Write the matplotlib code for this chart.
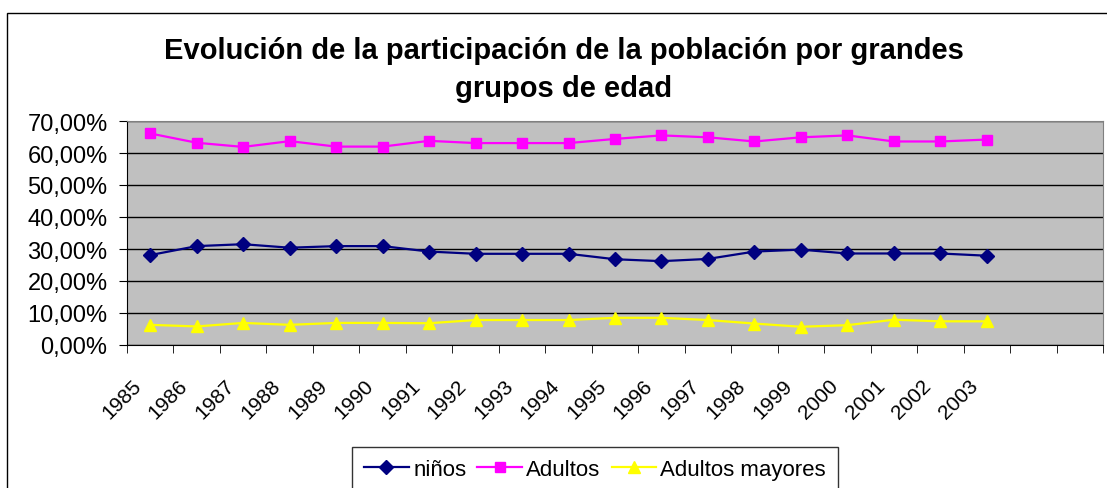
import matplotlib
matplotlib.use("Agg")
import matplotlib.pyplot as plt
import matplotlib.transforms as mtransforms
from matplotlib.patches import Rectangle
from matplotlib.ticker import FuncFormatter

plt.rcParams['font.family'] = ['Liberation Sans', 'DejaVu Sans']

# Data (percent)
years = ['1985', '1986', '1987', '1988', '1989', '1990', '1991', '1992', '1993', '1994',
         '1995', '1996', '1997', '1998', '1999', '2000', '2001', '2002', '2003']
ninos = [28.1, 30.9, 31.5, 30.4, 30.9, 30.9, 29.2, 28.5, 28.5, 28.5,
         26.8, 26.2, 26.9, 29.2, 29.8, 28.6, 28.6, 28.6, 27.9]
adultos = [66.1, 63.2, 61.9, 63.7, 62.0, 62.0, 63.8, 63.1, 63.1, 63.1,
           64.4, 65.5, 64.9, 63.6, 64.9, 65.5, 63.6, 63.6, 64.2]
mayores = [6.3, 5.8, 6.9, 6.3, 6.9, 6.9, 6.8, 7.8, 7.8, 7.8,
           8.5, 8.5, 7.8, 6.7, 5.7, 6.2, 7.9, 7.4, 7.4]
n_slots = 21  # category axis has two empty slots after 2003

W, H = 1107, 489
fig = plt.figure(figsize=(W / 100, H / 100), dpi=100)

# outer chart frame (cut by the image edges on right and bottom)
fig.patches.append(Rectangle((7 / W, 0 - 0.1), 1.2, 1 - 14 / H + 0.1,
                             transform=fig.transFigure, fill=False,
                             edgecolor='black', linewidth=1))

ax = fig.add_axes([127 / W, 1 - 346 / H, 976 / W, 224 / H])
ax.set_facecolor('#C0C0C0')

x = list(range(len(years)))
ax.plot(x, ninos, color='#000080', marker='D', markersize=7, linewidth=1.6, label='niños')
ax.plot(x, adultos, color='#FF00FF', marker='s', markersize=7.5, linewidth=1.6, label='Adultos')
ax.plot(x, mayores, color='#FFFF00', marker='^', markersize=8.5, linewidth=1.6, label='Adultos mayores')

ax.set_xlim(-0.5, n_slots - 0.5)
ax.set_ylim(0, 70)
ax.set_yticks(range(0, 71, 10))
ax.yaxis.set_major_formatter(FuncFormatter(lambda v, p: f'{v:.2f}'.replace('.', ',') + '%'))
ax.grid(axis='y', color='black', linewidth=1)
ax.set_axisbelow(True)

ax.set_xticks(x)
ax.set_xticklabels(years, rotation=45, ha='right', va='center', rotation_mode='anchor', fontsize=15)
ax.set_xticks([i - 0.5 for i in range(n_slots + 1)], minor=True)
ax.tick_params(axis='x', which='major', length=0, pad=27)
ax.tick_params(axis='x', which='minor', length=6, direction='out', color='black')
ax.tick_params(axis='y', length=6, direction='out', labelsize=17, pad=8)
offset = mtransforms.ScaledTranslation(-12 / 100, 0, fig.dpi_scale_trans)
for lab in ax.get_xticklabels():
    lab.set_transform(lab.get_transform() + offset)

for side in ['top', 'right']:
    ax.spines[side].set_color('#808080')
for side in ['left', 'bottom']:
    ax.spines[side].set_color('black')

fig.text(564 / W, 1 - 59 / H, 'Evolución de la participación de la población por grandes',
         ha='center', va='baseline', fontsize=21, fontweight='bold')
fig.text(564 / W, 1 - 97 / H, 'grupos de edad',
         ha='center', va='baseline', fontsize=21, fontweight='bold')

leg = fig.legend(loc='upper left', bbox_to_anchor=(352 / W, 1 - 448 / H), ncol=3,
                 fontsize=16, frameon=True, fancybox=False, handlelength=2.0,
                 handletextpad=0.2, columnspacing=0.5, borderaxespad=0, borderpad=0.55)
leg.get_frame().set_edgecolor('black')
leg.get_frame().set_linewidth(1)

fig.savefig('out.png', dpi=100)
